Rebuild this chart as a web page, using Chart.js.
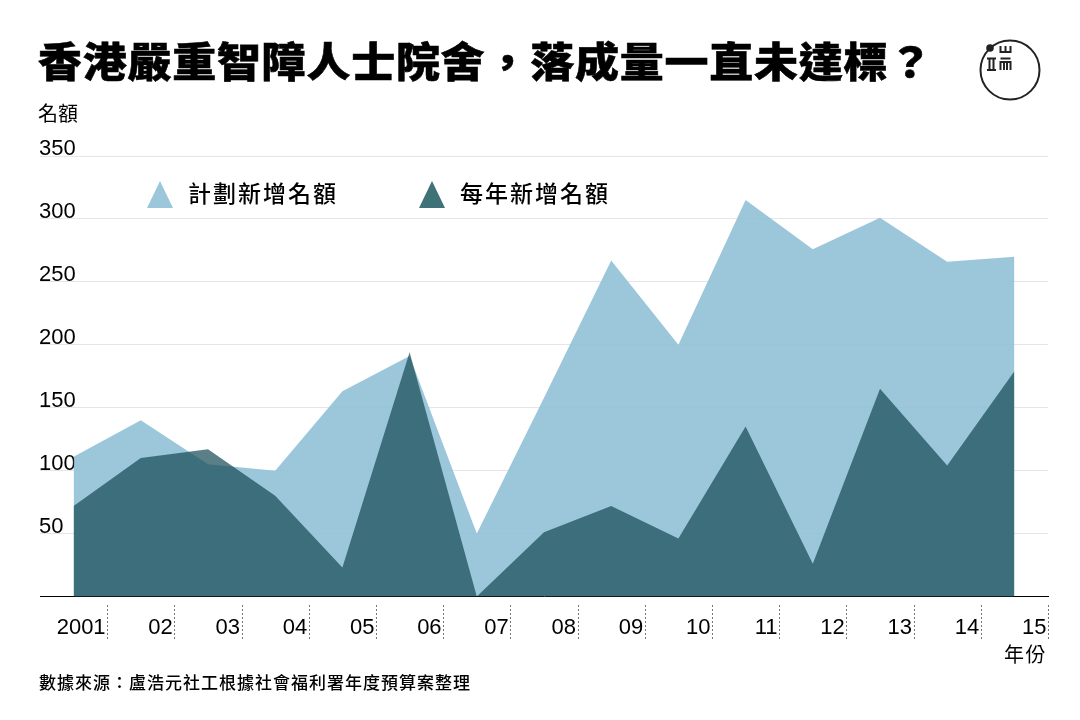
<!DOCTYPE html>
<html lang="zh-Hant">
<head>
<meta charset="utf-8">
<title>香港嚴重智障人士院舍，落成量一直未達標？</title>
<script src="https://cdn.jsdelivr.net/npm/chart.js@4"></script>
<style>
html, body { margin: 0; padding: 0; background: #fff; }
#page { position: relative; width: 1080px; height: 720px; overflow: hidden; font-family: 'Noto Sans CJK TC', sans-serif; color: #000; }
#chart { position: absolute; left: 0; top: 0; }
#page div, #logo { position: absolute; white-space: nowrap; }
#title { left: 38px; top: 29px; font-size: 44px; line-height: 62px; font-weight: 900; letter-spacing: 0.75px; -webkit-text-stroke: 0.6px #000; transform: scaleY(0.92); transform-origin: 0 50%; }
#unitY { left: 38px; top: 99px; font-size: 20px; line-height: 28px; }
#unitX { right: 33px; top: 640px; font-size: 20px; line-height: 28px; letter-spacing: 1.5px; }
#source { left: 39px; top: 670px; font-size: 17px; line-height: 24px; letter-spacing: 1px; font-weight: 500; }
.legendText { top: 176px; font-size: 23px; line-height: 32px; letter-spacing: 2px; font-weight: 500; }
.legendMark { top: 181px; width: 0; height: 0; border-left: 13.5px solid transparent; border-right: 13.5px solid transparent; border-bottom: 27px solid; }
#logo { left: 970px; top: 30px; }
</style>
</head>
<body>
<div id="page">
    <canvas id="chart" width="1080" height="720"></canvas>
    <div id="title">香港嚴重智障人士院舍，落成量一直未達標？</div>
    <div id="unitY">名額</div>
    <div id="unitX">年份</div>
    <div id="source">數據來源：盧浩元社工根據社會福利署年度預算案整理</div>
    <div class="legendMark" id="markPlanned" style="left:146.5px"></div>
    <div class="legendText" id="textPlanned" style="left:188px"></div>
    <div class="legendMark" id="markActual" style="left:419px"></div>
    <div class="legendText" id="textActual" style="left:460px"></div>
    <svg id="logo" width="80" height="80" viewBox="0 0 80 80">
        <circle cx="40" cy="40" r="29.5" fill="none" stroke="#222" stroke-width="2"/>
        <circle cx="20" cy="18" r="3.8" fill="#222"/>
        <path d="M17 28.5h9M17 40h9M19.5 28.5v11.5M23.5 28.5v11.5" fill="none" stroke="#222" stroke-width="2"/>
        <path d="M30.5 16v6h10v-6M35.5 16v6M30.5 28.5h10M30.5 40v-8h10v8M34 32v8M37 32v8" fill="none" stroke="#222" stroke-width="2"/>
    </svg>
</div>
<script>
// Chart data
const years = ['2001', '02', '03', '04', '05', '06', '07', '08', '09', '10', '11', '12', '13', '14', '15'];
const plannedPlaces = [111, 140, 105, 100, 163, 191, 50, 158, 267, 200, 315, 276, 301, 266, 270];
const actualPlaces = [72, 110, 117, 80, 23, 194, 0, 51, 72, 46, 135, 26, 165, 104, 179];
const plannedLabel = '計劃新增名額';
const actualLabel = '每年新增名額';

const plannedColor = 'rgba(145, 193, 215, 0.9)';
const actualColor = 'rgba(22, 73, 82, 0.7)';

document.getElementById('textPlanned').textContent = plannedLabel;
document.getElementById('textActual').textContent = actualLabel;
document.getElementById('markPlanned').style.borderBottomColor = '#9cc7db';
document.getElementById('markActual').style.borderBottomColor = '#3e7278';

// Dotted separators between the years, below the axis
const yearSeparators = {
    id: 'yearSeparators',
    afterDraw(chart) {
        const ctx = chart.ctx;
        const x = chart.scales.x;
        const halfBand = (x.getPixelForValue(1) - x.getPixelForValue(0)) / 2;
        ctx.save();
        ctx.strokeStyle = '#777';
        ctx.lineWidth = 1;
        ctx.setLineDash([2, 2]);
        years.forEach((year, i) => {
            const px = Math.round(x.getPixelForValue(i) + halfBand) + 0.5;
            ctx.beginPath();
            ctx.moveTo(px, 605);
            ctx.lineTo(px, 639);
            ctx.stroke();
        });
        ctx.restore();
    }
};

new Chart(document.getElementById('chart').getContext('2d'), {
    type: 'line',
    data: {
        labels: years,
        datasets: [{
            label: plannedLabel,
            data: plannedPlaces,
            backgroundColor: plannedColor,
            borderWidth: 0,
            pointRadius: 0,
            fill: 'origin',
            order: 2
        }, {
            label: actualLabel,
            data: actualPlaces,
            backgroundColor: actualColor,
            borderWidth: 0,
            pointRadius: 0,
            fill: 'origin',
            order: 1
        }]
    },
    options: {
        responsive: false,
        animation: false,
        layout: { padding: { left: 40, right: 32, top: 156, bottom: 0 } },
        plugins: {
            legend: { display: false },
            tooltip: { enabled: false }
        },
        scales: {
            x: {
                offset: true,
                afterFit(scale) { scale.height = 123.5; },
                grid: { display: false },
                border: { color: '#000', width: 1 },
                ticks: {
                    autoSkip: false,
                    maxRotation: 0,
                    align: 'end',
                    labelOffset: 32,
                    padding: 10,
                    color: '#000',
                    font: { family: "'Liberation Sans', Arial, sans-serif", size: 22 }
                }
            },
            y: {
                min: 0,
                max: 350,
                afterFit(scale) { scale.width = 0; },
                grid: { color: '#e6e6e6', lineWidth: 1, drawTicks: false },
                border: { display: false },
                ticks: {
                    stepSize: 50,
                    mirror: true,
                    padding: -1,
                    labelOffset: -7,
                    color: '#000',
                    font: { family: "'Liberation Sans', Arial, sans-serif", size: 22 },
                    callback: value => (value === 0 ? '' : value)
                }
            }
        }
    },
    plugins: [yearSeparators]
});
</script>
</body>
</html>
